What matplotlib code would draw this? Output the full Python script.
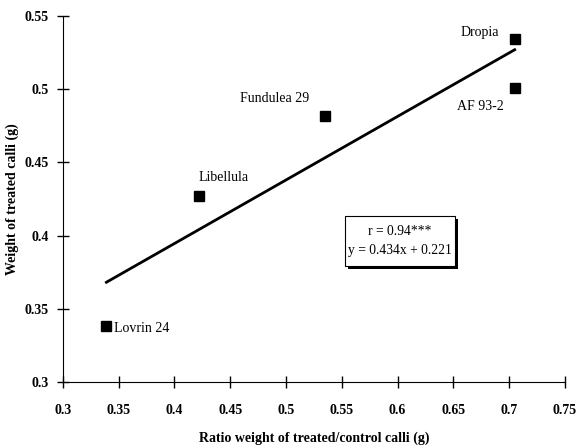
import matplotlib
matplotlib.use("Agg")
from matplotlib import pyplot as plt
from matplotlib.patches import Rectangle

# data
names = ["Lovrin 24", "Libellula", "Fundulea 29", "Dropia", "AF 93-2"]
ratio = [0.339, 0.422, 0.535, 0.705, 0.705]
weight = [0.338, 0.427, 0.482, 0.534, 0.501]
slope, intercept = 0.434, 0.221
r_text = "r = 0.94***"

plt.rcParams['font.family'] = ['Liberation Serif', 'DejaVu Serif']

fig = plt.figure(figsize=(5.77, 4.45), dpi=100)
ax = fig.add_axes([0.109, 0.1416, 0.870, 0.8224])

ax.plot(ratio, weight, 's', color='black', markersize=6.5, zorder=3)

# regression line over the data range
x0, x1 = min(ratio), max(ratio)
ax.plot([x0, x1], [slope*x0 + intercept, slope*x1 + intercept], color='black', lw=2)

# point labels
lab_pos = {"Lovrin 24": (0.3457, 0.3365, 'left'),
           "Libellula": (0.444, 0.4395, 'center'),
           "Fundulea 29": (0.49, 0.4935, 'center'),
           "Dropia": (0.674, 0.539, 'center'),
           "AF 93-2": (0.6746, 0.488, 'center')}
for n in names:
    lx, ly, ha = lab_pos[n]
    ax.text(lx, ly, n, ha=ha, va='center', fontsize=10)

box = ax.text(0.602, 0.3966, r_text + "\n" + "y = %.3fx + %.3f" % (slope, intercept),
              ha='center', va='center', fontsize=9.8, linespacing=1.6, zorder=6)

ax.set_xlim(0.3, 0.75)
ax.set_ylim(0.3, 0.55)
xt = [0.3, 0.35, 0.4, 0.45, 0.5, 0.55, 0.6, 0.65, 0.7, 0.75]
yt = [0.3, 0.35, 0.4, 0.45, 0.5, 0.55]
ax.set_xticks(xt)
ax.set_xticklabels(["%g" % v for v in xt], fontweight='bold')
ax.set_yticks(yt)
ax.set_yticklabels(["%g" % v for v in yt], fontweight='bold')
ax.tick_params(direction='inout', length=8, width=1, labelsize=10)
ax.tick_params(axis='x', pad=12)
ax.tick_params(axis='y', pad=6)
for s in ['top', 'right']:
    ax.spines[s].set_visible(False)

ax.set_xlabel("Ratio weight of treated/control calli (g)", fontweight='bold', fontsize=10, labelpad=10)
ax.set_ylabel("Weight of treated calli (g)", fontweight='bold', fontsize=10, labelpad=4)

# frame and drop shadow around the r / equation text
fig.canvas.draw()
bb = box.get_window_extent()
px, py = 3, 9
frame = Rectangle((bb.x0 - px, bb.y0 - py), bb.width + 2*px, bb.height + 2*py,
                  transform=None, fc='white', ec='black', lw=0.8, zorder=5)
shadow = Rectangle((bb.x0 - px + 3, bb.y0 - py - 3), bb.width + 2*px, bb.height + 2*py,
                   transform=None, fc='black', ec='none', zorder=4)
ax.add_artist(shadow)
ax.add_artist(frame)

plt.savefig("out.png", dpi=100)
